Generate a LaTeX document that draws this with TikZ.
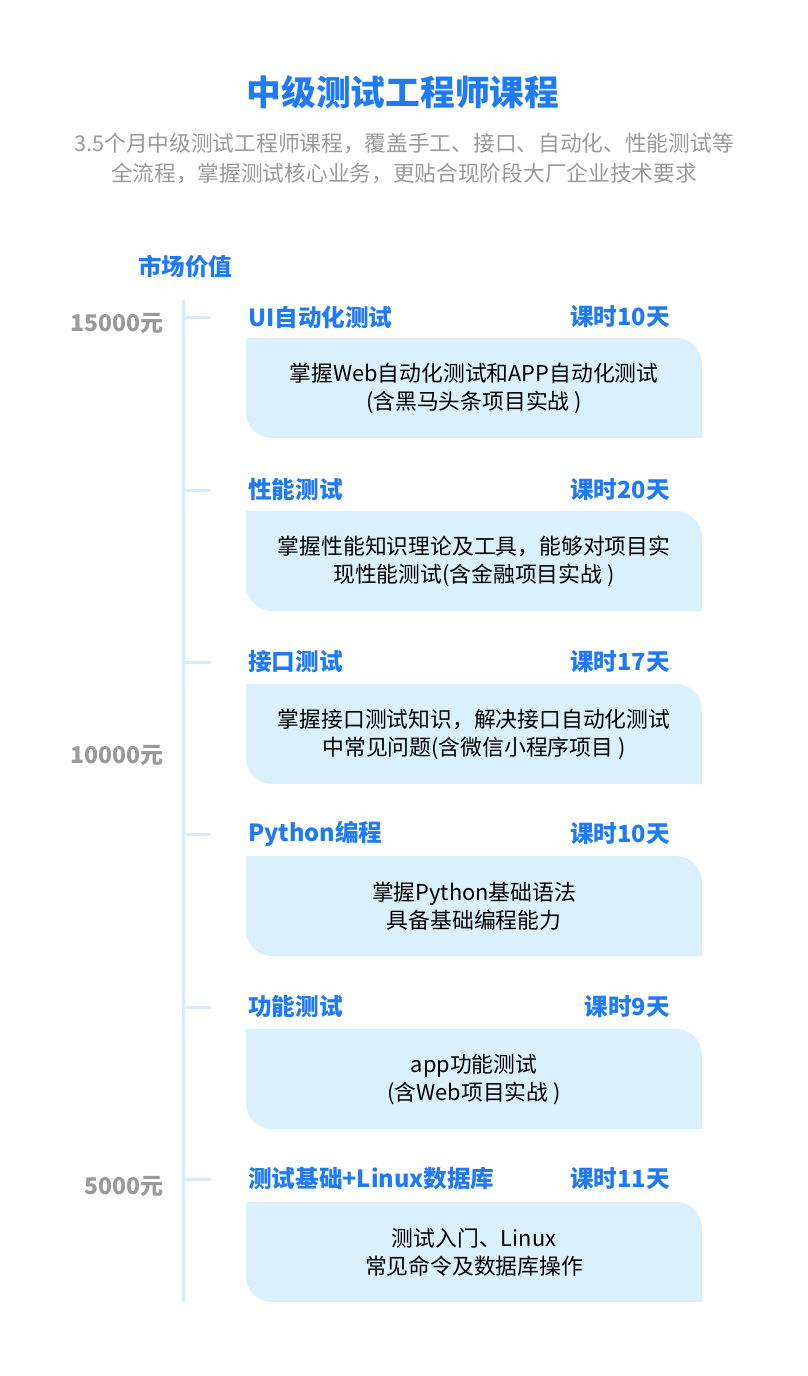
\documentclass[tikz,border=0pt]{standalone}
\usepackage{fontspec}
\setmainfont{Noto Sans CJK SC}
\definecolor{mainblue}{HTML}{1F7AF5}
\definecolor{lightgray}{HTML}{9A9A9A}
\definecolor{boxblue}{HTML}{DAF0FD}
\definecolor{axisblue}{HTML}{D4EDFC}
\tikzset{
  course/.style={anchor=west,inner sep=0pt,font=\fontsize{23.6}{26}\selectfont\bfseries,text=mainblue},
  days/.style={anchor=east,inner sep=0pt,font=\fontsize{23.6}{26}\selectfont\bfseries,text=mainblue},
  price/.style={anchor=east,inner sep=0pt,font=\fontsize{23}{26}\selectfont\bfseries,text=lightgray},
  desc/.style={align=center,inner sep=0pt,font=\fontsize{21.8}{28}\selectfont,text=black},
  axisline/.style={draw=axisblue,line width=3pt},
  boxbg/.style={fill=boxblue}
}

\begin{document}
\begin{tikzpicture}[x=1pt,y=-1pt]
        \fill[white] (0,0) rectangle (807,1376);
        \useasboundingbox (0,0) rectangle (807,1376);

        \draw (403,92) node[inner sep=0pt,font=\fontsize{34.7}{38}\selectfont\bfseries,text=mainblue] (title) {中级测试工程师课程};
        \draw (404,158) node[inner sep=0pt,align=center,font=\fontsize{21.7}{30}\selectfont,text=lightgray] (sub)
        {3.5个月中级测试工程师课程，覆盖手工、接口、自动化、性能测试等\\全流程，掌握测试核心业务，更贴合现阶段大厂企业技术要求};
        \draw (185,267) node[inner sep=0pt,font=\fontsize{23.5}{26}\selectfont\bfseries,text=mainblue] (value) {市场价值};

        % axis and ticks
        \coordinate (top) at (183,300);
        \coordinate (bottom) at (183,1302);
        \draw[axisline] (top) -- (bottom);
        \foreach \y in {317,490,662,834,1007,1179}
          \draw[axisline] (183,\y) -- ++(28,0);

        \draw (164,323) node[price] (p15) {15000元};
        \draw (164,755) node[price] (p10) {10000元};
        \draw (164,1186) node[price] (p5) {5000元};

        % course boxes
        \foreach \y in {338,511,684,856,1029,1202}
          \fill[boxbg] (246,\y+100) -- (246,\y) [rounded corners=26pt] -- (702,\y)
          [sharp corners] -- (702,\y+100) [rounded corners=26pt] -- (246,\y+100) [sharp corners] -- cycle;

        \draw (248,317) node[course] (c1) {UI自动化测试};
        \draw (670,317) node[days] (d1) {课时10天};
        \draw (474,388) node[desc] (b1) {掌握Web自动化测试和APP自动化测试\\(含黑马头条项目实战 )};

        \draw (248,490) node[course] (c2) {性能测试};
        \draw (670,490) node[days] (d2) {课时20天};
        \draw (474,561) node[desc] (b2) {掌握性能知识理论及工具，能够对项目实\\现性能测试(含金融项目实战 )};

        \draw (248,662) node[course] (c3) {接口测试};
        \draw (670,662) node[days] (d3) {课时17天};
        \draw (474,734) node[desc] (b3) {掌握接口测试知识，解决接口自动化测试\\中常见问题(含微信小程序项目 )};

        \draw (248,834) node[course] (c4) {Python编程};
        \draw (670,834) node[days] (d4) {课时10天};
        \draw (474,906) node[desc] (b4) {掌握Python基础语法\\具备基础编程能力};

        \draw (248,1007) node[course] (c5) {功能测试};
        \draw (670,1007) node[days] (d5) {课时9天};
        \draw (474,1079) node[desc] (b5) {app功能测试\\(含Web项目实战 )};

        \draw (248,1179) node[course] (c6) {测试基础+Linux数据库};
        \draw (670,1179) node[days] (d6) {课时11天};
        \draw (474,1252) node[desc] (b6) {测试入门、Linux\\常见命令及数据库操作};
\end{tikzpicture}
\end{document}
